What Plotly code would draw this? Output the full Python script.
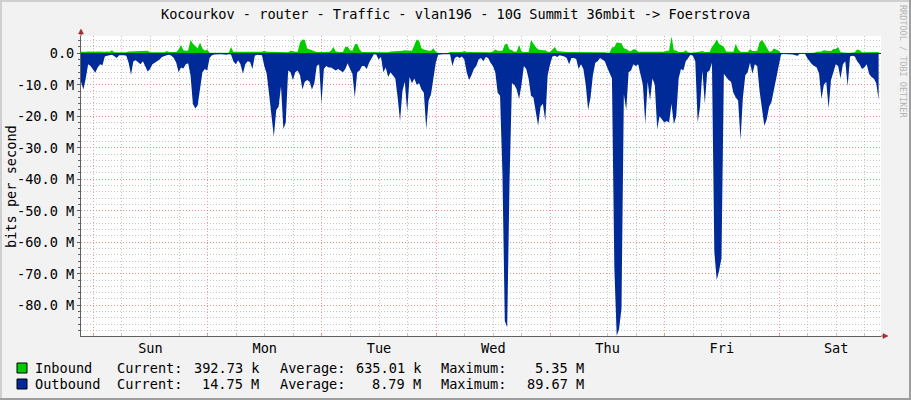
import pandas as pd
import plotly.graph_objects as go

TITLE = "Kocourkov - router - Traffic - vlan196 - 10G Summit 36mbit -> Foerstrova"
START = "2024-01-06 21:25"
END = "2024-01-13 21:25"
STEP = "30min"

# Inbound traffic, Mbit/s, 30-minute samples
INBOUND_M = [
    0.5, 0.4, 0.5, 0.6, 0.5, 0.4, 0.5, 0.6, 0.5, 0.4,
    0.5, 0.6, 0.5, 1.0, 0.3, 0.3, 0.3, 0.3, 0.3, 0.3,
    0.6, 0.6, 0.7, 0.6, 0.6, 0.6, 0.7, 0.6, 0.8, 0.3,
    0.3, 0.3, 0.3, 0.3, 0.3, 0.3, 0.7, 0.4, 0.4, 0.4,
    0.4, 1.2, 2.6, 1.0, 0.8, 0.9, 4.2, 3.0, 2.2, 1.5,
    3.4, 1.5, 0.8, 1.2, 0.2, 0.2, 0.2, 0.2, 0.2, 0.2,
    0.2, 0.2, 0.2, 2.0, 0.5, 0.5, 0.5, 0.5, 0.5, 0.5,
    0.5, 0.5, 0.5, 0.5, 0.5, 0.5, 0.5, 0.8, 0.5, 0.5,
    0.5, 0.5, 0.5, 0.5, 0.3, 0.3, 0.3, 0.3, 0.8, 0.6,
    0.5, 0.5, 3.4, 4.4, 4.2, 1.5, 1.2, 1.0, 0.8, 0.4,
    0.4, 0.4, 0.4, 0.4, 0.4, 0.8, 2.0, 0.6, 0.4, 0.4,
    0.4, 2.0, 2.1, 1.0, 0.8, 2.8, 3.0, 1.2, 0.4, 0.4,
    0.4, 0.4, 0.4, 0.3, 0.3, 0.3, 0.3, 0.3, 0.3, 0.3,
    0.6, 0.6, 0.6, 0.6, 0.6, 0.8, 1.0, 1.0, 0.8, 0.8,
    2.6, 4.4, 4.0, 1.6, 1.2, 0.9, 0.8, 0.8, 1.6, 0.5,
    0.1, 0.1, 0.1, 0.1, 0.1, 0.4, 0.4, 0.4, 0.4, 0.4,
    0.4, 0.7, 0.4, 0.4, 0.4, 0.4, 0.4, 0.4, 0.3, 0.3,
    0.3, 0.3, 0.3, 0.6, 1.2, 0.8, 0.7, 0.8, 2.8, 3.0,
    1.2, 1.0, 0.5, 0.6, 2.6, 0.6, 0.4, 0.4, 0.4, 4.2,
    3.0, 2.0, 1.2, 1.0, 1.0, 1.0, 0.5, 0.4, 1.2, 2.0,
    0.7, 0.6, 0.4, 0.4, 0.4, 0.4, 0.4, 0.4, 0.4, 0.5,
    0.5, 0.5, 0.5, 0.5, 0.3, 0.3, 0.3, 0.3, 0.3, 0.3,
    0.3, 0.2, 0.2, 1.8, 2.0, 3.4, 3.4, 3.2, 1.6, 1.4,
    0.8, 0.7, 1.3, 1.2, 0.5, 0.5, 0.5, 0.5, 0.5, 0.5,
    0.5, 0.5, 0.5, 0.5, 0.5, 0.5, 0.8, 0.8, 5.35, 1.0,
    0.9, 0.4, 0.4, 0.4, 1.0, 0.3, 0.2, 0.2, 0.2, 0.4,
    0.6, 0.7, 0.4, 0.4, 0.4, 2.0, 3.0, 4.4, 3.0, 2.5,
    2.0, 0.6, 0.5, 0.5, 0.5, 3.0, 1.2, 0.5, 0.4, 0.4,
    0.4, 1.3, 0.7, 0.7, 0.8, 3.5, 4.2, 3.2, 2.0, 0.6,
    0.6, 1.5, 1.2, 0.8, 0.05, 0.05, 0.05, 0.05, 0.05, 0.05,
    0.05, 0.2, 0.05, 0.05, 0.05, 0.1, 0.1, 0.1, 0.2, 0.5,
    0.5, 0.6, 1.0, 0.8, 0.7, 0.7, 1.4, 1.4, 2.0, 0.3,
    0.2, 0.2, 0.2, 0.2, 0.2, 0.3, 1.2, 1.0, 0.3, 0.3,
    0.3, 0.3, 0.3, 0.4, 0.4, 0.39,
]

# Outbound traffic, Mbit/s, 30-minute samples (drawn below zero)
OUTBOUND_M = [
    9, 11.5, 8, 3.5, 4, 5, 6.2, 4.5, 3.5, 3.8,
    1, 0.8, 0.6, 0.5, 0.9, 1.5, 0.6, 0.5, 0.6, 0.8,
    3, 6.8, 2.5, 2.2, 2.8, 3.5, 2.5, 4, 5.8, 5,
    3.5, 3, 2.5, 2, 1.2, 0.8, 0.6, 0.5, 0.8, 1.5,
    3, 6, 4.5, 4.8, 3.5, 3.2, 7, 16, 17.5, 16.5,
    11, 6, 5, 5.5, 1.5, 0.6, 0.4, 0.3, 0.4, 0.3,
    0.4, 0.5, 0.3, 0.4, 2.5, 3.5, 2.2, 3.5, 6.5, 3.5,
    2.5, 2.8, 5, 0.8, 0.5, 0.5, 0.6, 4, 6.5, 13,
    21, 26.5, 18, 17, 10.5, 24, 22, 5.5, 6, 8.5,
    6, 5.5, 7, 11.5, 9, 8.5, 9, 11.5, 9.5, 4,
    3.5, 16, 5, 4, 4.5, 4.5, 5, 5.5, 5, 5.5,
    6, 5, 3.2, 5, 6.5, 14, 6, 5.5, 4, 4,
    5, 3, 1.5, 0.3, 0.4, 2, 1.2, 6, 4.5, 7.5,
    6, 7, 8, 14, 21.5, 12, 9, 18.5, 7.5, 9.5,
    8, 10, 9.5, 11.5, 12.5, 24, 15, 13, 8, 3,
    0.5, 0.3, 0.3, 0.3, 0.3, 0.3, 4, 1.5, 1, 1.5,
    1, 2, 6, 8.5, 7, 5, 4, 2, 1.5, 2.5,
    1.2, 1.5, 3, 4, 6, 12.5, 13.5, 38, 85, 87,
    40, 9.5, 10, 11.5, 14.5, 10, 4, 5, 8, 13.5,
    14, 19, 23, 17, 16, 21.5, 7, 3.5, 1, 0.8,
    1.2, 0.6, 0.8, 1, 1.5, 3.5, 1.5, 1.5, 1.8, 5,
    3.5, 5, 10, 18, 14, 7, 3, 2.5, 1.5, 2,
    2.5, 4.5, 6.5, 8, 68, 89.67, 87.5, 81, 13, 18,
    6, 5.5, 3.5, 4, 3.5, 7, 10, 22.5, 9, 15,
    8, 10, 24, 20, 21, 22, 21.5, 22, 16, 22.5,
    20, 8, 5, 5.5, 2.5, 1.5, 0.5, 0.8, 2.5, 22,
    17, 5.5, 16, 6, 5.5, 3, 63, 72, 69, 65,
    6.5, 7.5, 8.5, 9, 12.5, 14, 15, 27.5, 14, 7,
    6, 3, 6.5, 3.5, 4, 12, 17, 23, 21, 17,
    15.5, 12, 8, 4, 0.4, 0.2, 0.2, 0.2, 0.2, 0.4,
    0.6, 0.8, 0.1, 0.1, 0.1, 1.5, 2.5, 3.5, 4, 4.5,
    6.5, 14.5, 10, 9, 17.5, 8.5, 6, 3.5, 4, 8,
    3.5, 2.5, 10.5, 1, 0.8, 1, 2.5, 3.5, 5, 4.5,
    3.5, 6.5, 7.5, 8, 9.5, 14.75,
]

Y_TICK_VALUES_M = [0, -10, -20, -30, -40, -50, -60, -70, -80]
Y_TICK_LABELS = ["0.0", "-10.0 M", "-20.0 M", "-30.0 M", "-40.0 M",
                 "-50.0 M", "-60.0 M", "-70.0 M", "-80.0 M"]
Y_RANGE_M = [-89.75, 5.49]

SERIES_NAMES = ["Inbound", "Outbound"]
SERIES_COLORS = ["#00CC00", "#002A97"]
CURRENT_TXT = ["392.73 k", "14.75 M"]
AVERAGE_TXT = ["635.01 k", "8.79 M"]
MAXIMUM_TXT = ["5.35 M", "89.67 M"]

FONT = "DejaVu Sans Mono"
FS = 13.6
MGRID = "rgba(240,120,120,0.75)"
GRID = "rgba(175,175,175,0.7)"
AXIS = "#606060"
ARROW = "#A52A2A"

W, H = 911, 400
ML, MR, MT, MB = 81, 30, 36, 64
PW, PH = W - ML - MR, H - MT - MB


def px(x):
    return (x - ML) / PW


def py(y):
    return (H - MB - y) / PH


times = pd.date_range(START, periods=len(OUTBOUND_M), freq=STEP)

fig = go.Figure()
fig.add_trace(go.Scatter(
    x=times, y=INBOUND_M, mode="lines", line=dict(width=0, shape="linear"),
    fill="tozeroy", fillcolor=SERIES_COLORS[0], name=SERIES_NAMES[0],
    hoverinfo="skip"))
fig.add_trace(go.Scatter(
    x=times, y=[-v for v in OUTBOUND_M], mode="lines", line=dict(width=0, shape="linear"),
    fill="tozeroy", fillcolor=SERIES_COLORS[1], name=SERIES_NAMES[1],
    hoverinfo="skip"))

tickfont = dict(family=FONT, size=FS, color="#000000")

fig.update_layout(
    width=W, height=H,
    margin=dict(l=ML, r=MR, t=MT, b=MB, autoexpand=False),
    paper_bgcolor="#F2F2F2", plot_bgcolor="#FFFFFF",
    showlegend=False,
    xaxis=dict(
        type="date", range=[START, END],
        tick0="2024-01-07", dtick=86400000,
        ticklabelmode="period", tickformat="%a",
        showgrid=True, gridcolor=MGRID, griddash="1px,2px", gridwidth=1,
        ticks="inside", ticklen=3, tickcolor=MGRID,
        minor=dict(dtick=6 * 3600000, showgrid=True, gridcolor=GRID,
                   griddash="1px,2px", ticks="inside", ticklen=2, tickcolor=GRID),
        showline=True, linecolor=AXIS, linewidth=1, zeroline=False,
        tickfont=tickfont, fixedrange=True,
    ),
    yaxis=dict(
        range=Y_RANGE_M, tickmode="array", tickvals=Y_TICK_VALUES_M,
        ticktext=Y_TICK_LABELS,
        showgrid=True, gridcolor=MGRID, griddash="1px,2px", gridwidth=1,
        ticks="outside", ticklen=3, tickcolor=AXIS,
        minor=dict(tickmode="linear", tick0=0, dtick=2, showgrid=True,
                   gridcolor=GRID, griddash="1px,2px", ticks="outside",
                   ticklen=2, tickcolor=AXIS),
        showline=True, linecolor=AXIS, linewidth=1,
        zeroline=True, zerolinecolor="#1E2A66", zerolinewidth=1,
        tickfont=tickfont, fixedrange=True,
    ),
)

ann = []
ann.append(dict(text=TITLE, x=px(455.5), y=py(14), xref="paper", yref="paper",
                showarrow=False, xanchor="center", yanchor="middle",
                font=dict(family=FONT, size=FS, color="#000000")))
ann.append(dict(text="bits per second", x=px(11), y=py(187), xref="paper", yref="paper",
                showarrow=False, textangle=-90, xanchor="center", yanchor="middle",
                font=dict(family=FONT, size=FS, color="#000000")))
ann.append(dict(text="RRDTOOL / TOBI OETIKER", x=px(903), y=py(61), xref="paper",
                yref="paper", showarrow=False, textangle=90, xanchor="center",
                yanchor="middle", font=dict(family=FONT, size=8.5, color="#B4B4B4")))

shapes = []
row_y = [368, 384]
for k in range(2):
    yc = row_y[k]
    shapes.append(dict(type="rect", xref="paper", yref="paper",
                       x0=px(17), x1=px(27), y0=py(yc + 5), y1=py(yc - 5),
                       fillcolor=SERIES_COLORS[k], line=dict(color="#000000", width=1)))
    lf = dict(family=FONT, size=FS, color="#000000")
    items = [
        (SERIES_NAMES[k], 34, "left"),
        ("Current:", 116, "left"),
        (CURRENT_TXT[k], 260, "right"),
        ("Average:", 279, "left"),
        (AVERAGE_TXT[k], 422, "right"),
        ("Maximum:", 440, "left"),
        (MAXIMUM_TXT[k], 585, "right"),
    ]
    for txt, xx, anc in items:
        ann.append(dict(text=txt, x=px(xx), y=py(yc), xref="paper", yref="paper",
                        showarrow=False, xanchor=anc, yanchor="middle", font=lf,
                        borderpad=0))

# frame (3D border)
shapes += [
    dict(type="line", xref="paper", yref="paper", x0=px(0), x1=px(W), y0=py(1), y1=py(1),
         line=dict(color="#CFCFCF", width=2)),
    dict(type="line", xref="paper", yref="paper", x0=px(1), x1=px(1), y0=py(0), y1=py(H),
         line=dict(color="#CFCFCF", width=2)),
    dict(type="line", xref="paper", yref="paper", x0=px(0), x1=px(W), y0=py(H - 1), y1=py(H - 1),
         line=dict(color="#9E9E9E", width=2)),
    dict(type="line", xref="paper", yref="paper", x0=px(W - 1), x1=px(W - 1), y0=py(0), y1=py(H),
         line=dict(color="#9E9E9E", width=2)),
]
# axis arrows
shapes += [
    dict(type="line", xref="paper", yref="paper", x0=px(81), x1=px(81), y0=py(36), y1=py(32),
         line=dict(color=AXIS, width=1)),
    dict(type="path", xref="paper", yref="paper",
         path=f"M {px(78.5)} {py(34)} L {px(83.5)} {py(34)} L {px(81)} {py(29)} Z",
         fillcolor=ARROW, line=dict(color=ARROW, width=0.5)),
    dict(type="line", xref="paper", yref="paper", x0=px(881), x1=px(884), y0=py(336), y1=py(336),
         line=dict(color=AXIS, width=1)),
    dict(type="path", xref="paper", yref="paper",
         path=f"M {px(883)} {py(333.5)} L {px(883)} {py(338.5)} L {px(888)} {py(336)} Z",
         fillcolor=ARROW, line=dict(color=ARROW, width=0.5)),
]

fig.update_layout(annotations=ann, shapes=shapes)

fig.write_html("out.html", config={"displayModeBar": False},
               post_script="document.body.style.margin='0';")
